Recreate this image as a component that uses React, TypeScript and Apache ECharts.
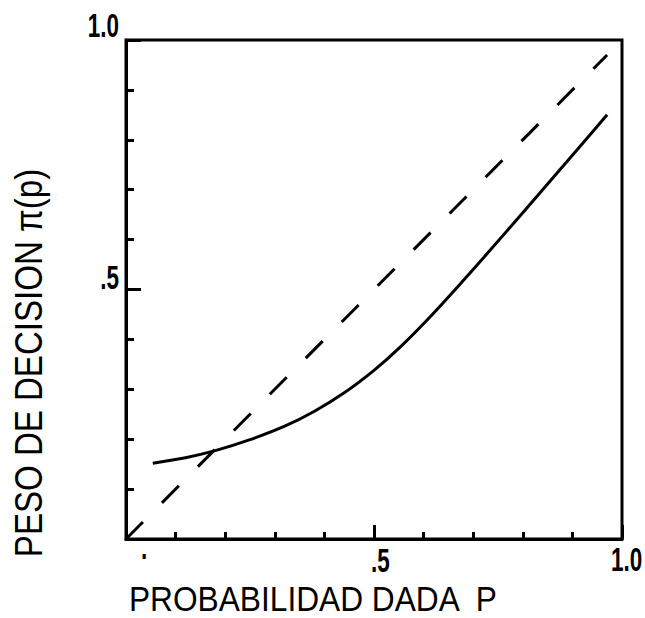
import React, { useEffect, useRef } from "react";
import * as echarts from "echarts";

const P_VALUES = [0.054, 0.12, 0.18, 0.25, 0.32, 0.38, 0.44, 0.5, 0.55, 0.61, 0.68, 0.73, 0.8, 0.86, 0.92, 0.97];
const WEIGHTS = [0.152, 0.163, 0.177, 0.199, 0.226, 0.256, 0.293, 0.338, 0.382, 0.442, 0.518, 0.574, 0.654, 0.723, 0.792, 0.85];
const DIAGONAL = [0, 0.97];
const X_LABEL_VALUES = [0, 0.5, 1];
const X_LABEL_TEXTS = [".", ".5", "1.0"];
const Y_LABEL_VALUES = [0.5, 1];
const Y_LABEL_TEXTS = [".5", "1.0"];
const X_TITLE = "PROBABILIDAD DADA  P";
const Y_TITLE = "PESO DE DECISION π(p)";

const FONT = "'Liberation Sans', Arial, sans-serif";

export default function App() {
  const ref = useRef<HTMLDivElement>(null);
  useEffect(() => {
    if (!ref.current) return;
    const chart = echarts.init(ref.current, null, { renderer: "svg" });
    const axisCommon = {
      type: "value" as const,
      min: 0,
      max: 1,
      interval: 0.5,
      splitLine: { show: false },
      minorSplitLine: { show: false },
      axisLabel: { show: false },
      axisLine: { show: true, lineStyle: { color: "#000", width: 3 } },
    };
    chart.setOption({
      animation: false,
      backgroundColor: "#fff",
      grid: {
        left: 126,
        right: 23,
        top: 40,
        bottom: 79,
        show: true,
        borderColor: "#000",
        borderWidth: 3,
        backgroundColor: "transparent",
      },
      xAxis: {
        ...axisCommon,
        position: "bottom",
        axisTick: { show: true, inside: true, length: 14, lineStyle: { color: "#000", width: 3 } },
        minorTick: { show: true, splitNumber: 5, length: 7, lineStyle: { color: "#000", width: 3 } },
      },
      yAxis: {
        ...axisCommon,
        position: "left",
        axisTick: { show: true, inside: true, length: 15, lineStyle: { color: "#000", width: 3 } },
        minorTick: { show: true, splitNumber: 5, length: 8, lineStyle: { color: "#000", width: 3 } },
      },
      series: [
        {
          type: "line",
          data: DIAGONAL.map((v) => [v, v]),
          symbol: "none",
          lineStyle: { color: "#000", width: 3, type: [24, 27] },
        },
        {
          type: "line",
          data: P_VALUES.map((p, i) => [p, WEIGHTS[i]]),
          symbol: "none",
          smooth: 0.3,
          lineStyle: { color: "#000", width: 3 },
        },
      ],
    });

    const toPx = (x: number, y: number) =>
      chart.convertToPixel({ gridIndex: 0 }, [x, y]) as number[];
    const origin = toPx(0, 0);
    const xOffsets = [
      { dx: 18, dy: 8, align: "center" },
      { dx: -3, dy: 21, align: "left" },
      { dx: -11, dy: 20, align: "left" },
    ];
    const graphics: any[] = [];
    const tickStyle = {
      fill: "#000",
      fontSize: 34,
      fontWeight: "bold",
      fontFamily: FONT,
      verticalAlign: "middle",
    };
    X_LABEL_VALUES.forEach((v, i) => {
      const [px] = toPx(v, 0);
      const o = xOffsets[i];
      graphics.push({
        type: "text",
        x: px + o.dx,
        y: origin[1] + o.dy,
        scaleX: 0.66,
        style: { ...tickStyle, text: X_LABEL_TEXTS[i], align: o.align },
      });
    });
    const yOffsets = [{ dy: -12 }, { dy: -15 }];
    Y_LABEL_VALUES.forEach((v, i) => {
      const [, py] = toPx(0, v);
      graphics.push({
        type: "text",
        x: origin[0] - 7,
        y: py + yOffsets[i].dy,
        scaleX: 0.66,
        style: { ...tickStyle, text: Y_LABEL_TEXTS[i], align: "right" },
      });
    });
    graphics.push({
      type: "text",
      x: origin[0] + 3,
      y: 598,
      scaleX: 0.88,
      style: {
        text: X_TITLE,
        fill: "#000",
        fontSize: 36,
        fontFamily: FONT,
        align: "left",
        verticalAlign: "middle",
      },
    });
    graphics.push({
      type: "text",
      x: 29,
      y: 363,
      rotation: Math.PI / 2,
      scaleX: 0.87,
      style: {
        text: Y_TITLE,
        fill: "#000",
        fontSize: 38,
        fontFamily: FONT,
        align: "center",
        verticalAlign: "middle",
      },
    });
    chart.setOption({ graphic: graphics });

    return () => chart.dispose();
  }, []);
  return (
    <div
      ref={ref}
      style={{ position: "absolute", left: 0, top: 0, width: 645, height: 618 }}
    />
  );
}
